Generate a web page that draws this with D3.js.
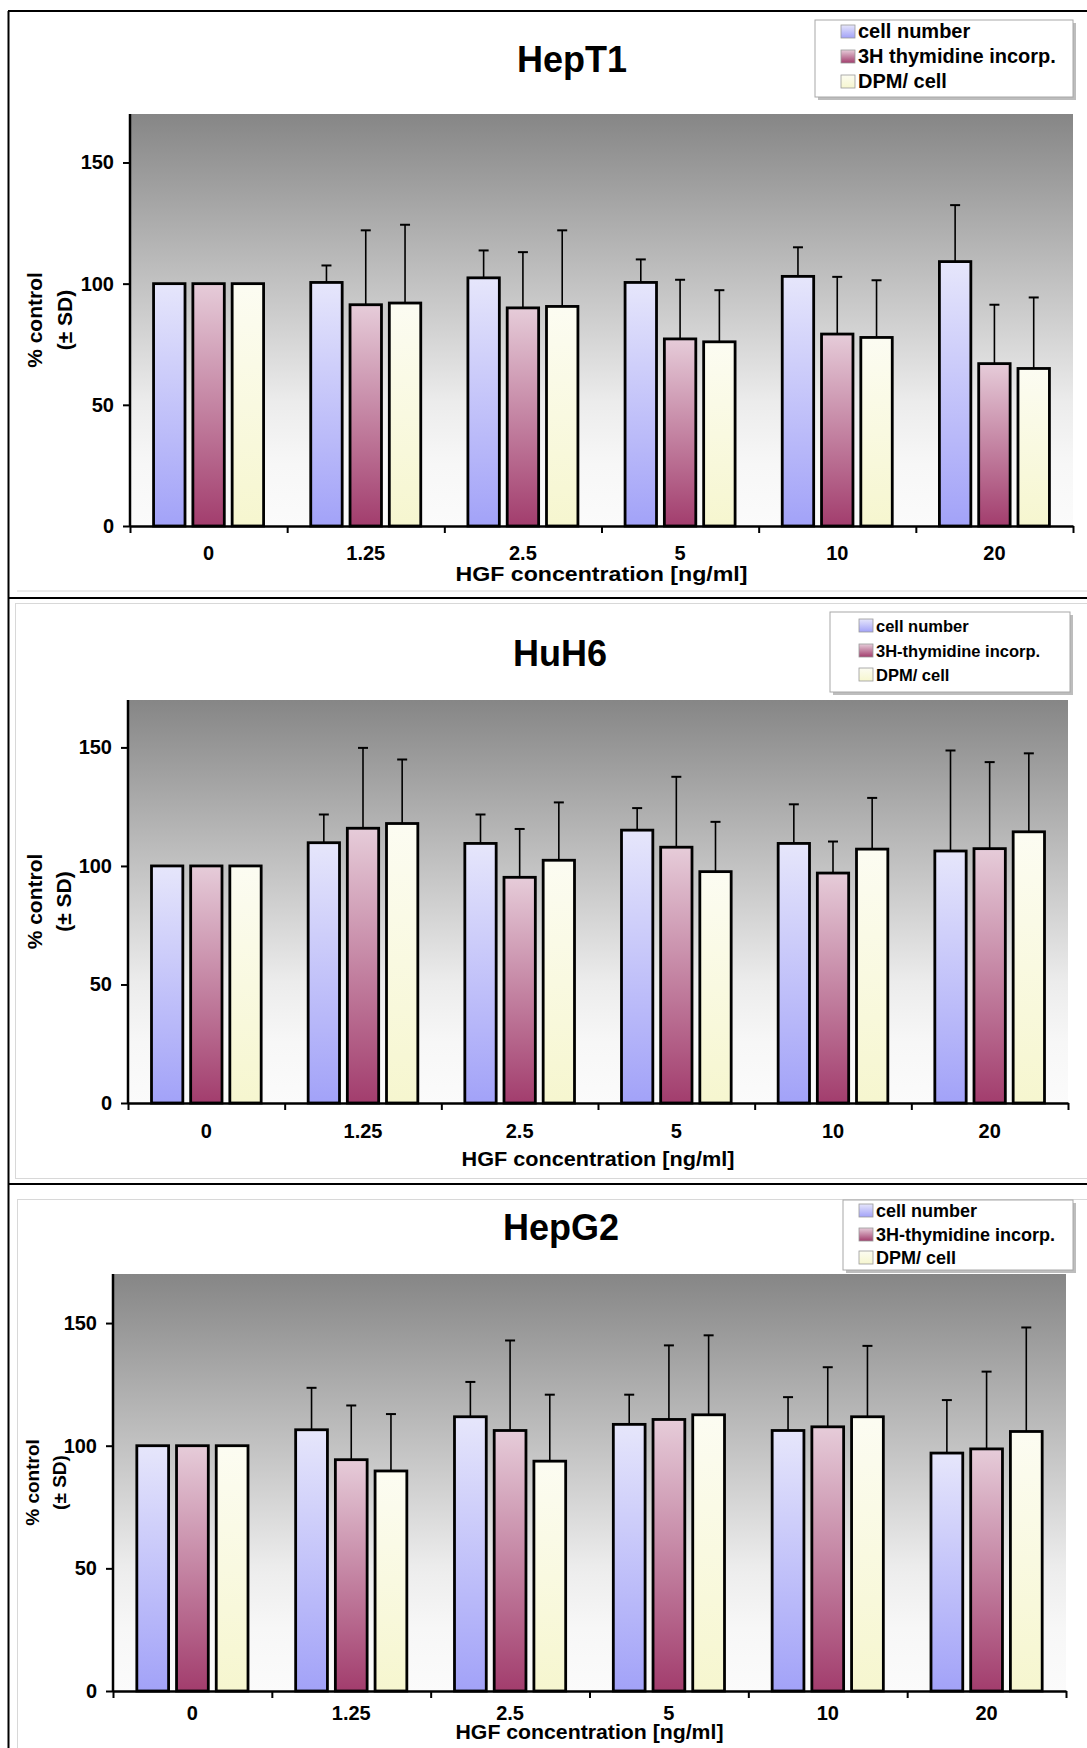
<!DOCTYPE html>
<html>
<head>
<meta charset="utf-8">
<script src="https://cdn.jsdelivr.net/npm/d3@7"></script>
<style>
  body { margin: 0; background: #fff; }
  svg text { font-family: "Liberation Sans", Arial, sans-serif; font-weight: bold; fill: #000; }
</style>
</head>
<body>
<script>
// data (% control)
var categories = ["0", "1.25", "2.5", "5", "10", "20"];
var yTicks = [0, 50, 100, 150];

var hept1Cell = [100, 100.5, 102.4, 100.5, 103, 109.1];
var hept1CellSd = [0, 7, 11.3, 9.5, 12, 23.3];
var hept1Thy = [100, 91.3, 90, 77.2, 79.2, 67];
var hept1ThySd = [0, 30.7, 23, 24.4, 23.6, 24.3];
var hept1Dpm = [100, 92, 90.6, 76, 77.8, 65];
var hept1DpmSd = [0, 32.3, 31.4, 21.3, 23.6, 29.3];

var huh6Cell = [100, 109.8, 109.5, 115.1, 109.5, 106.3];
var huh6CellSd = [0, 11.9, 12.2, 9.3, 16.5, 42.4];
var huh6Thy = [100, 115.9, 95.2, 107.9, 97, 107.3];
var huh6ThySd = [0, 33.9, 20.4, 29.7, 13.3, 36.5];
var huh6Dpm = [100, 117.9, 102.4, 97.6, 107.1, 114.4];
var huh6DpmSd = [0, 27, 24.4, 21, 21.6, 33.1];

var hepg2Cell = [100, 106.5, 111.8, 108.7, 106.2, 97];
var hepg2CellSd = [0, 17.1, 14.2, 12.1, 13.6, 21.6];
var hepg2Thy = [100, 94.3, 106.2, 110.7, 107.7, 98.7];
var hepg2ThySd = [0, 22.1, 36.7, 30.2, 24.3, 31.5];
var hepg2Dpm = [100, 89.7, 93.7, 112.6, 111.8, 105.8];
var hepg2DpmSd = [0, 23.2, 27.1, 32.4, 28.9, 42.4];

var W = 1087, H = 1748;

var svg = d3.select("body").append("svg")
    .attr("width", W)
    .attr("height", H);

var defs = svg.append("defs");

// plot background
var bg = defs.append("linearGradient").attr("id", "bgGrad")
    .attr("x1", 0).attr("y1", 0).attr("x2", 0).attr("y2", 1);
bg.append("stop").attr("offset", "0%").attr("stop-color", "#868686");
bg.append("stop").attr("offset", "70%").attr("stop-color", "#ececec");
bg.append("stop").attr("offset", "85%").attr("stop-color", "#f7f7f7");
bg.append("stop").attr("offset", "100%").attr("stop-color", "#fbfbfb");

// bar fills
var barGrads = [
    { id: "gCell", top: "#e6e6fb", bottom: "#a2a2f8" },
    { id: "gThy", top: "#e6ccd9", bottom: "#a23d6d" },
    { id: "gDpm", top: "#fcfcf2", bottom: "#f6f6cf" }
];
barGrads.forEach(function (g) {
    var lg = defs.append("linearGradient").attr("id", g.id)
        .attr("x1", 0).attr("y1", 0).attr("x2", 0).attr("y2", 1);
    lg.append("stop").attr("offset", "0%").attr("stop-color", g.top);
    lg.append("stop").attr("offset", "100%").attr("stop-color", g.bottom);
});

// panel frames
svg.append("line").attr("x1", 8.5).attr("x2", 8.5).attr("y1", 11).attr("y2", H)
    .attr("stroke", "#000").attr("stroke-width", 2);
[11, 598, 1184].forEach(function (y) {
    svg.append("line").attr("x1", 8).attr("x2", W).attr("y1", y).attr("y2", y)
        .attr("stroke", "#000").attr("stroke-width", 2);
});
svg.append("line").attr("x1", 17).attr("x2", W).attr("y1", 591).attr("y2", 591)
    .attr("stroke", "#d8d8d8").attr("stroke-width", 1);
svg.append("rect").attr("x", 15.5).attr("y", 603.5).attr("width", W).attr("height", 575)
    .attr("fill", "none").attr("stroke", "#d8d8d8");
svg.append("rect").attr("x", 17.5).attr("y", 1199.5).attr("width", W).attr("height", 600)
    .attr("fill", "none").attr("stroke", "#d8d8d8");

function drawPanel(p) {
    var g = svg.append("g");

    var x = d3.scaleBand().domain(categories)
        .range([p.x0, p.x1]).paddingInner(0.3).paddingOuter(0.15);
    var xs = d3.scaleBand().domain([0, 1, 2])
        .range([0, x.bandwidth()]).paddingInner(0.2);
    var y = d3.scaleLinear().domain([0, 170]).range([p.y0, p.y1]);

    g.append("rect")
        .attr("x", p.x0).attr("y", p.y1)
        .attr("width", p.x1 - p.x0).attr("height", p.y0 - p.y1)
        .attr("fill", "url(#bgGrad)");

    var rows = [];
    p.series.forEach(function (s, si) {
        s.values.forEach(function (v, i) {
            rows.push({ cat: categories[i], si: si, v: v, sd: s.sd[i] });
        });
    });

    // error bars (upper only)
    var errs = g.selectAll(".err").data(rows.filter(function (d) { return d.sd > 0; }))
        .enter().append("g").attr("class", "err");
    errs.append("line")
        .attr("x1", function (d) { return x(d.cat) + xs(d.si) + xs.bandwidth() / 2; })
        .attr("x2", function (d) { return x(d.cat) + xs(d.si) + xs.bandwidth() / 2; })
        .attr("y1", function (d) { return y(d.v); })
        .attr("y2", function (d) { return y(d.v + d.sd); })
        .attr("stroke", "#000").attr("stroke-width", 1.6);
    errs.append("line")
        .attr("x1", function (d) { return x(d.cat) + xs(d.si) + xs.bandwidth() / 2 - 5; })
        .attr("x2", function (d) { return x(d.cat) + xs(d.si) + xs.bandwidth() / 2 + 5; })
        .attr("y1", function (d) { return y(d.v + d.sd); })
        .attr("y2", function (d) { return y(d.v + d.sd); })
        .attr("stroke", "#000").attr("stroke-width", 2);

    g.selectAll(".bar").data(rows).enter().append("rect")
        .attr("class", "bar")
        .attr("x", function (d) { return x(d.cat) + xs(d.si); })
        .attr("width", xs.bandwidth())
        .attr("y", function (d) { return y(d.v); })
        .attr("height", function (d) { return y(0) - y(d.v); })
        .attr("fill", function (d) { return "url(#" + barGrads[d.si].id + ")"; })
        .attr("stroke", "#000").attr("stroke-width", 2.8);

    // y axis
    var yAxis = g.append("g")
        .attr("transform", "translate(" + p.x0 + ",0)")
        .call(d3.axisLeft(y).tickValues(yTicks).tickSize(7).tickPadding(9));
    yAxis.select(".domain").attr("d", "M0," + p.y1 + "V" + p.y0)
        .attr("stroke", "#000").attr("stroke-width", 2.5);
    yAxis.selectAll(".tick line").attr("stroke", "#000").attr("stroke-width", 2);
    yAxis.selectAll("text").style("font-size", "20px").style("font-family", "Liberation Sans, Arial, sans-serif");

    // x axis: ticks at category boundaries, labels at centres
    var xb = d3.scaleLinear().domain([0, categories.length]).range([p.x0, p.x1]);
    var xAxis = g.append("g")
        .attr("transform", "translate(0," + p.y0 + ")")
        .call(d3.axisBottom(xb).tickValues(d3.range(categories.length + 1))
            .tickFormat("").tickSize(7).tickSizeOuter(0));
    xAxis.select(".domain").attr("stroke", "#000").attr("stroke-width", 2.5);
    xAxis.selectAll(".tick line").attr("stroke", "#000").attr("stroke-width", 2);

    g.selectAll(".xlab").data(categories).enter().append("text")
        .attr("class", "xlab")
        .attr("x", function (d) { return x(d) + x.bandwidth() / 2; })
        .attr("y", p.labY)
        .attr("text-anchor", "middle")
        .style("font-size", "20px")
        .text(function (d) { return d; });

    g.append("text")
        .attr("x", (p.x0 + p.x1) / 2).attr("y", p.axTitleY)
        .attr("text-anchor", "middle")
        .attr("textLength", p.axTitleLen).attr("lengthAdjust", "spacingAndGlyphs")
        .style("font-size", "20px")
        .text("HGF concentration [ng/ml]");

    var yt = g.append("text")
        .attr("transform", "translate(0," + ((p.y0 + p.y1) / 2) + ") rotate(-90)")
        .attr("text-anchor", "middle")
        .style("font-size", p.yTitleSize + "px");
    yt.append("tspan").attr("x", 0).attr("y", p.yTitleX1).text("% control");
    yt.append("tspan").attr("x", 0).attr("y", p.yTitleX2).text("(± SD)");

    // title
    g.append("text")
        .attr("x", p.titleX).attr("y", p.titleY)
        .attr("text-anchor", "middle")
        .style("font-size", "36px")
        .text(p.title);

    // legend
    var lg = g.append("g");
    lg.append("rect")
        .attr("x", p.lx + 3).attr("y", p.ly + 3)
        .attr("width", p.lw).attr("height", p.lh)
        .attr("fill", "#bdbdbd");
    lg.append("rect")
        .attr("x", p.lx).attr("y", p.ly)
        .attr("width", p.lw).attr("height", p.lh)
        .attr("fill", "#fff").attr("stroke", "#a8a8a8").attr("stroke-width", 1);
    p.series.forEach(function (s, si) {
        var by = p.legBase[si];
        lg.append("rect")
            .attr("x", p.swX).attr("y", by - 13)
            .attr("width", 14).attr("height", 13)
            .attr("fill", "url(#" + barGrads[si].id + ")")
            .attr("stroke", "#9a9a9a").attr("stroke-width", 0.8);
        lg.append("text")
            .attr("x", p.swX + 17).attr("y", by)
            .style("font-size", p.legSize + "px")
            .text(s.name);
    });
}

drawPanel({
    title: "HepT1", titleX: 572, titleY: 72,
    x0: 130, x1: 1073, y0: 526, y1: 114,
    labY: 560, axTitleY: 581, axTitleLen: 292,
    yTitleSize: 21, yTitleX1: 42, yTitleX2: 72,
    lx: 815, ly: 20, lw: 258, lh: 77, swX: 841, legSize: 20, legBase: [38, 63, 88],
    series: [
        { name: "cell number", values: hept1Cell, sd: hept1CellSd },
        { name: "3H thymidine incorp.", values: hept1Thy, sd: hept1ThySd },
        { name: "DPM/ cell", values: hept1Dpm, sd: hept1DpmSd }
    ]
});

drawPanel({
    title: "HuH6", titleX: 560, titleY: 666,
    x0: 128, x1: 1068, y0: 1103, y1: 700,
    labY: 1138, axTitleY: 1166, axTitleLen: 273,
    yTitleSize: 21, yTitleX1: 42, yTitleX2: 71,
    lx: 830, ly: 612, lw: 240, lh: 80, swX: 859, legSize: 16.5, legBase: [632, 657, 681],
    series: [
        { name: "cell number", values: huh6Cell, sd: huh6CellSd },
        { name: "3H-thymidine incorp.", values: huh6Thy, sd: huh6ThySd },
        { name: "DPM/ cell", values: huh6Dpm, sd: huh6DpmSd }
    ]
});

drawPanel({
    title: "HepG2", titleX: 561, titleY: 1240,
    x0: 113, x1: 1066, y0: 1691, y1: 1274,
    labY: 1720, axTitleY: 1739, axTitleLen: 268,
    yTitleSize: 19, yTitleX1: 39, yTitleX2: 66,
    lx: 843, ly: 1200, lw: 230, lh: 70, swX: 859, legSize: 18, legBase: [1217, 1241, 1264],
    series: [
        { name: "cell number", values: hepg2Cell, sd: hepg2CellSd },
        { name: "3H-thymidine incorp.", values: hepg2Thy, sd: hepg2ThySd },
        { name: "DPM/ cell", values: hepg2Dpm, sd: hepg2DpmSd }
    ]
});
</script>
</body>
</html>
